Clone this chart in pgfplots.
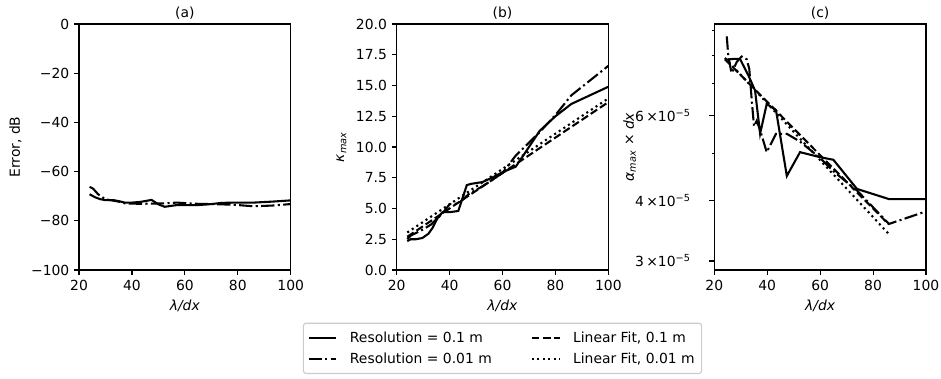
\documentclass[border=0pt]{standalone}
\usepackage{fontspec}
\setmainfont{DejaVu Sans}
\usepackage{pgfplots}
\pgfplotsset{compat=1.18}
\tikzset{
  mpdash/.style={dash pattern=on 5.55pt off 2.4pt},
  mpdashdot/.style={dash pattern=on 9.6pt off 2.4pt on 1.5pt off 2.4pt},
  mpdot/.style={dash pattern=on 1.5pt off 2.475pt},
}
\pgfplotsset{
  mpl/.style={
    scale only axis, width=152.4pt, height=177.1pt,
    anchor=south west,
    axis line style={line width=0.8pt},
    every tick/.style={line width=0.8pt, black},
    tick align=outside, tick pos=left,
    major tick length=3.5pt, minor tick length=2pt,
    xmin=20, xmax=100, xtick={20,40,60,80,100},
    /pgf/number format/assume math mode=true,
    tick label style={font=\fontsize{10}{12}\selectfont},
    label style={font=\fontsize{10}{12}\selectfont},
    title style={font=\fontsize{10}{12}\selectfont, yshift=-6pt},
    xlabel={\textit{λ/dx}},
    every axis plot/.append style={line width=1.5pt, black},
    legend image code/.code={\draw[#1] (0pt,0pt) -- (20pt,0pt);},
  }
}
\begin{document}
\begin{tikzpicture}
\useasboundingbox (0,0) rectangle (677.5pt,272.2pt);

% (a)
\begin{axis}[mpl, at={(56.9pt,77.8pt)}, title={(a)},
  ymin=-100, ymax=0, ytick={-100,-80,-60,-40,-20,0},
  yticklabels={−100,−80,−60,−40,−20,0},
  ylabel={Error, dB}]
\addplot[solid] coordinates {
(24,-69.2) (26,-70.4) (28,-71.2) (30,-71.6) (33,-71.6) (35,-72.0) (37.3,-72.6)
(40,-72.6) (43.3,-72.3) (47.4,-71.5) (50,-73.3) (52.4,-74.3) (57,-73.6) (60,-73.6)
(65,-73.6) (70,-73.2) (74,-72.7) (80,-72.6) (86,-72.6) (93,-72.2) (100,-71.7)};
\addplot[mpdashdot] coordinates {
(24,-66.2) (25.3,-66.9) (27.2,-69.2) (30,-71.3) (33,-71.8) (35.4,-72.3) (37.3,-72.9)
(40,-73.0) (43.3,-73.1) (47.4,-73.0) (52.4,-72.9) (57,-72.6) (60,-72.8) (65,-73.1)
(74,-73.3) (80,-73.6) (86,-74.1) (93,-73.8) (100,-73.2)};
\end{axis}

% (b)
\begin{axis}[mpl, at={(285.6pt,77.8pt)}, title={(b)},
  ymin=0, ymax=20, ytick={0,2.5,5,7.5,10,12.5,15,17.5,20},
  yticklabel style={/pgf/number format/.cd, fixed, fixed zerofill, precision=1},
  ylabel={\textit{κ}\textsubscript{\textit{max}}},
  legend style={at={(0.5,-0.214)}, anchor=north, legend columns=2,
    draw=black!20, rounded corners=2pt, line width=0.8pt, fill=white,
    font=\fontsize{10}{12}\selectfont,
    inner xsep=3pt, inner ysep=4pt, row sep=2pt,
    /tikz/every odd column/.append style={column sep=7pt},
    /tikz/every even column/.append style={column sep=26pt},
    legend cell align=left}]
\addplot[solid] coordinates {
(24,2.35) (25.3,2.5) (27.2,2.5) (29.7,2.6) (32,2.95) (33.5,3.4) (35.4,4.2) (37.3,4.7)
(40,4.7) (43.3,4.8) (46.5,6.9) (48,7.0) (52.4,7.15) (56,7.5) (60,7.95) (65,8.4)
(70,10.0) (74,11.3) (80,12.5) (86,13.5) (100,14.9)};
\addlegendentry{Resolution = 0.1 m}
\addplot[mpdash] coordinates {(24,2.7) (100,13.65)};
\addlegendentry{Linear Fit, 0.1 m}
\addplot[mpdashdot] coordinates {
(24,2.5) (25.3,2.8) (27.2,3.0) (30,3.3) (33,3.7) (35.4,4.2) (37.3,4.6) (40,5.35)
(43.3,5.4) (47.4,6.2) (52.4,6.8) (56,7.3) (60,7.9) (65,9.3) (74,11.2) (80,12.6)
(86,14.2) (100,16.6)};
\addlegendentry{Resolution = 0.01 m}
\addplot[mpdot] coordinates {(24,3.05) (100,13.95)};
\addlegendentry{Linear Fit, 0.01 m}
\end{axis}

% (c)
\begin{axis}[mpl, at={(514.3pt,77.8pt)}, title={(c)}, clip=false,
  ymode=log, ymin=2.874e-5, ymax=9.28e-5,
  ytick={3e-5,4e-5,6e-5},
  yticklabels={3\,×10\textsuperscript{−5},4\,×10\textsuperscript{−5},6\,×10\textsuperscript{−5}},
  yticklabel style={xshift=-10pt},
  minor ytick={5e-5,7e-5,8e-5,9e-5}]
\addplot[solid] coordinates {
(24.4,7.83e-5) (27.2,7.86e-5) (29.7,7.86e-5) (32.9,7.26e-5) (35.4,6.76e-5)
(37.3,5.5e-5) (39.8,6.34e-5) (43.3,6.16e-5) (47.4,4.5e-5) (52.4,5.04e-5)
(60,4.92e-5) (65,4.86e-5) (73.9,4.23e-5) (86,4.03e-5) (100,4.03e-5)};
\addplot[mpdashdot] coordinates {
(24.7,8.75e-5) (25.3,7.95e-5) (26.5,7.35e-5) (28.5,7.75e-5) (30.3,7.95e-5)
(32.2,7.85e-5) (33.2,7.5e-5) (34.2,6.4e-5) (35.0,5.7e-5) (36.0,5.85e-5)
(37.3,5.6e-5) (39.8,5.04e-5) (43.3,5.5e-5) (47.4,5.5e-5) (52.4,5.3e-5)
(60,4.9e-5) (65,4.6e-5) (73.9,4.2e-5) (86,3.58e-5) (100,3.8e-5)};
\addplot[mpdash] coordinates {(24,7.85e-5) (86,3.57e-5)};
\addplot[mpdot] coordinates {(24,7.9e-5) (86,3.41e-5)};
\node[rotate=90, anchor=center, font=\fontsize{10}{12}\selectfont]
  at (axis description cs:-0.40,0.5)
  {\textit{α}\textsubscript{\textit{max}} × \textit{dx}};
\end{axis}
\end{tikzpicture}
\end{document}
